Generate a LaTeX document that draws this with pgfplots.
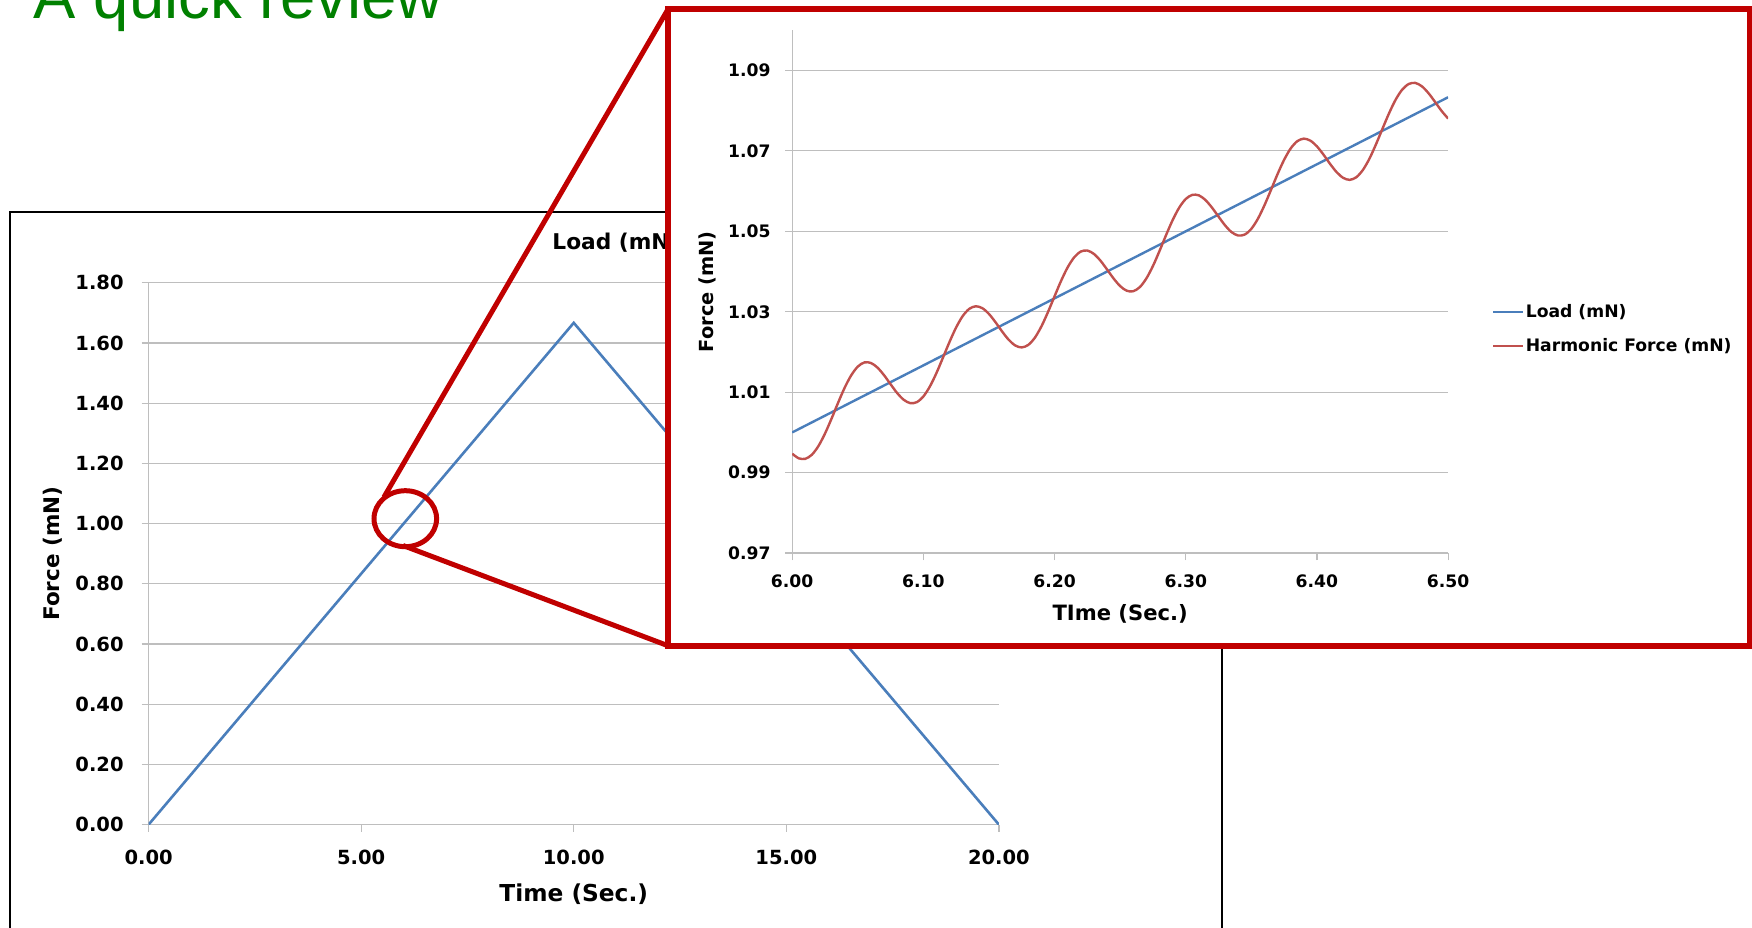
\documentclass[border=0pt]{standalone}
\usepackage{pgfplots}
\pgfplotsset{compat=1.18}
\usepackage{fontspec}
\setmainfont{DejaVu Sans}
\newfontfamily\titlefont{Liberation Sans}
\definecolor{xlblue}{RGB}{74,126,187}
\definecolor{xlred}{RGB}{192,80,77}
\definecolor{callout}{RGB}{192,0,0}
\definecolor{gridgray}{RGB}{190,190,190}
\definecolor{titlegreen}{RGB}{0,128,0}
\pgfplotsset{
  xlstyle/.style={
    scale only axis, anchor=south west,
    axis x line*=bottom, axis y line*=left,
    axis line style={draw=gridgray, line width=0.6pt, -},
    x axis line style={-}, y axis line style={-},
    ymajorgrids, grid style={draw=gridgray, line width=0.6pt},
    tick align=outside, major tick length=3.5pt,
    tick style={draw=gridgray, line width=0.6pt},
    minor tick num=0,
    /pgf/number format/fixed, /pgf/number format/fixed zerofill,
    /pgf/number format/precision=2, /pgf/number format/assume math mode=true,
    scaled ticks=false,
  }
}
\begin{document}
\begin{tikzpicture}
\useasboundingbox (0,0) rectangle (876pt,463.5pt);
\clip (0,0) rectangle (876pt,463.5pt);
% green slide title
\node[anchor=base west, inner sep=0pt, text=titlegreen] at (16.75pt,454.35pt) {\titlefont\fontsize{31.7}{34}\selectfont A quick review};
% main chart frame
\draw[black, line width=1pt] (5pt,-10pt) -- (5pt,357.35pt) -- (611.2pt,357.35pt) -- (611.2pt,-10pt);
\begin{axis}[xlstyle,
  at={(74.3pt,51.2pt)}, width=425.15pt, height=270.95pt,
  xmin=0, xmax=20, ymin=0, ymax=1.8,
  xtick={0,5,10,15,20},
  ytick={0,0.2,0.4,0.6,0.8,1.0,1.2,1.4,1.6,1.8},
  ticklabel style={font=\fontsize{9.75}{10}\selectfont\bfseries},
  yticklabel style={anchor=east, inner sep=0pt, xshift=-8.8pt},
  xticklabel style={anchor=center, inner sep=0pt, yshift=-12.7pt},
  title={\bfseries Load (mN)},
  title style={at={(axis description cs:0.5497,1.0742)}, anchor=center, inner sep=0pt, yshift=-6pt, font=\fontsize{10.85}{12}\selectfont},
  xlabel={\bfseries Time (Sec.)},
  xlabel style={at={(axis description cs:0.5,0)}, anchor=center, inner sep=0pt, yshift=-34.7pt, font=\fontsize{11.65}{12}\selectfont},
  ylabel={\bfseries Force (mN)},
  ylabel style={at={(axis description cs:0,0.5)}, anchor=center, inner sep=0pt, yshift=48.05pt, font=\fontsize{10.75}{12}\selectfont},
]
\addplot[xlblue, line width=1.3pt] coordinates {(0,0) (10,1.66667) (20,0)};
\end{axis}
% callout
\draw[callout, line width=2.5pt] (202.65pt,204.15pt) ellipse [x radius=15.65pt, y radius=14pt];
\draw[callout, line width=2.5pt] (192pt,215pt) -- (334.1pt,459.05pt);
\draw[callout, line width=2.5pt] (201.5pt,190.75pt) -- (334.1pt,140.6pt);
\draw[callout, line width=2.8pt, fill=white] (334.1pt,140.6pt) rectangle (874.9pt,459.05pt);
\begin{axis}[xlstyle,
  at={(396.1pt,186.95pt)}, width=327.95pt, height=261.45pt,
  xmin=6, xmax=6.5, ymin=0.97, ymax=1.10,
  xtick={6.0,6.1,6.2,6.3,6.4,6.5},
  ytick={0.97,0.99,1.01,1.03,1.05,1.07,1.09},
  ticklabel style={font=\fontsize{8.6}{9}\selectfont\bfseries},
  yticklabel style={anchor=east, inner sep=0pt, xshift=-7.1pt},
  xticklabel style={anchor=center, inner sep=0pt, yshift=-10.45pt},
  xlabel={\bfseries TIme (Sec.)},
  xlabel style={at={(axis description cs:0.5,0)}, anchor=center, inner sep=0pt, yshift=-30.15pt, font=\fontsize{10.55}{12}\selectfont},
  ylabel={\bfseries Force (mN)},
  ylabel style={at={(axis description cs:0,0.5)}, anchor=center, inner sep=0pt, yshift=42.45pt, font=\fontsize{9.7}{12}\selectfont},
  legend style={draw=none, fill=none, at={(axis description cs:1.0663,0.4284)}, anchor=west,
    inner sep=0pt, row sep=7.7pt, font=\fontsize{8.6}{9}\selectfont\bfseries,
    nodes={inner sep=0.6pt, anchor=west}},
  legend cell align=left,
  legend image code/.code={\draw[#1] (0pt,0pt) -- (15.1pt,0pt);},
]
\addplot[xlblue, line width=1.2pt] coordinates {(6.0,1.0) (6.5,1.08333)};
\addlegendentry{Load (mN)}
\addplot[xlred, line width=1.2pt, smooth] table[row sep=\\] {
t h\\
6.000 0.99471\\ 6.005 0.99356\\ 6.010 0.99344\\ 6.015 0.99446\\ 6.020 0.99662\\
6.025 0.99972\\ 6.030 1.00344\\ 6.035 1.00739\\ 6.040 1.01112\\ 6.045 1.01421\\
6.050 1.01637\\ 6.055 1.01740\\ 6.060 1.01727\\ 6.065 1.01612\\ 6.070 1.01423\\
6.075 1.01198\\ 6.080 1.00980\\ 6.085 1.00812\\ 6.090 1.00728\\ 6.095 1.00753\\
6.100 1.00895\\ 6.105 1.01145\\ 6.110 1.01480\\ 6.115 1.01865\\ 6.120 1.02256\\
6.125 1.02612\\ 6.130 1.02894\\ 6.135 1.03073\\ 6.140 1.03137\\ 6.145 1.03088\\
6.150 1.02945\\ 6.155 1.02739\\ 6.160 1.02511\\ 6.165 1.02305\\ 6.170 1.02162\\
6.175 1.02113\\ 6.180 1.02177\\ 6.185 1.02356\\ 6.190 1.02638\\ 6.195 1.02994\\
6.200 1.03385\\ 6.205 1.03770\\ 6.210 1.04105\\ 6.215 1.04355\\ 6.220 1.04497\\
6.225 1.04522\\ 6.230 1.04438\\ 6.235 1.04270\\ 6.240 1.04052\\ 6.245 1.03827\\
6.250 1.03638\\ 6.255 1.03523\\ 6.260 1.03510\\ 6.265 1.03613\\ 6.270 1.03829\\
6.275 1.04138\\ 6.280 1.04511\\ 6.285 1.04906\\ 6.290 1.05278\\ 6.295 1.05588\\
6.300 1.05804\\ 6.305 1.05906\\ 6.310 1.05894\\ 6.315 1.05779\\ 6.320 1.05589\\
6.325 1.05365\\ 6.330 1.05147\\ 6.335 1.04978\\ 6.340 1.04895\\ 6.345 1.04920\\
6.350 1.05061\\ 6.355 1.05312\\ 6.360 1.05647\\ 6.365 1.06031\\ 6.370 1.06423\\
6.375 1.06779\\ 6.380 1.07060\\ 6.385 1.07240\\ 6.390 1.07304\\ 6.395 1.07254\\
6.400 1.07112\\ 6.405 1.06906\\ 6.410 1.06677\\ 6.415 1.06472\\ 6.420 1.06329\\
6.425 1.06279\\ 6.430 1.06344\\ 6.435 1.06523\\ 6.440 1.06804\\ 6.445 1.07161\\
6.450 1.07552\\ 6.455 1.07936\\ 6.460 1.08272\\ 6.465 1.08522\\ 6.470 1.08663\\
6.475 1.08689\\ 6.480 1.08605\\ 6.485 1.08436\\ 6.490 1.08219\\ 6.495 1.07994\\
6.500 1.07804\\
};
\addlegendentry{Harmonic Force (mN)}
\end{axis}
\end{tikzpicture}
\end{document}
